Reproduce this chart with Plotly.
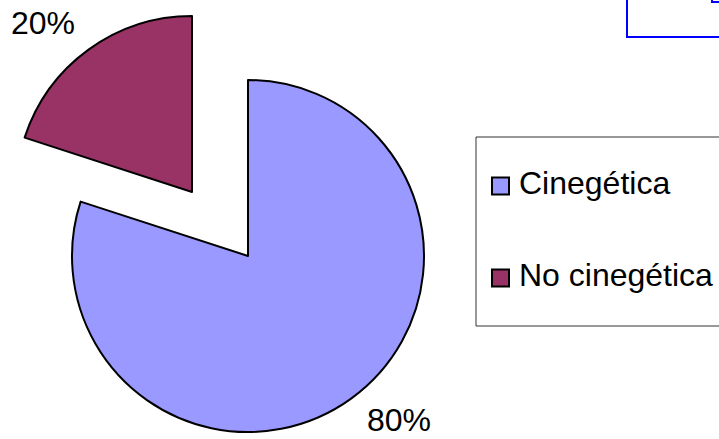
import plotly.graph_objects as go

# ---- data ----
labels = ["Cinegética", "No cinegética"]
values = [80, 20]
colors = ["#9999FF", "#993366"]

W, H = 719, 439
FONT = "Liberation Sans, Arial, Helvetica, sans-serif"

def domain(cx, cy, r):
    return dict(x=[(cx - r) / W, (cx + r) / W],
                y=[1 - (cy + r) / H, 1 - (cy - r) / H])

R = 176
fig = go.Figure()

# main pie (first slice shown, exploded slice left empty)
fig.add_trace(go.Pie(
    labels=labels, values=values, sort=False, direction="clockwise", rotation=0,
    marker=dict(colors=[colors[0], "rgba(0,0,0,0)"],
                line=dict(color="black", width=[2, 0])),
    textinfo="none", hoverinfo="skip", showlegend=False,
    domain=domain(248, 256, R),
))
# exploded slice
fig.add_trace(go.Pie(
    labels=labels, values=values, sort=False, direction="clockwise", rotation=0,
    marker=dict(colors=["rgba(0,0,0,0)", colors[1]],
                line=dict(color="black", width=[0, 2])),
    textinfo="none", hoverinfo="skip", showlegend=False,
    domain=domain(192, 192, R),
))

total = sum(values)
pct_pos = [(399, 420), (43, 23)]
annotations = []
shapes = []
for v, (x, y) in zip(values, pct_pos):
    annotations.append(dict(x=x / W, y=1 - y / H, xref="paper", yref="paper",
                            text=f"{round(100 * v / total)}%", showarrow=False,
                            xanchor="center", yanchor="middle",
                            font=dict(family=FONT, size=32, color="black")))

# legend box
shapes.append(dict(type="rect", xref="paper", yref="paper",
                   x0=476 / W, x1=760 / W, y0=1 - 326 / H, y1=1 - 137 / H,
                   line=dict(color="#333333", width=1), fillcolor="rgba(0,0,0,0)"))
leg_y = [186, 278]
for lab, col, yy in zip(labels, colors, leg_y):
    shapes.append(dict(type="rect", xref="paper", yref="paper",
                       x0=492 / W, x1=509 / W, y0=1 - (yy + 8.5) / H, y1=1 - (yy - 8.5) / H,
                       line=dict(color="black", width=2), fillcolor=col))
    annotations.append(dict(x=517 / W, y=1 - (yy - 3) / H, xref="paper", yref="paper",
                            text=lab, showarrow=False, xanchor="left", yanchor="middle",
                            font=dict(family=FONT, size=32, color="black")))

# partial boxes at top right
shapes.append(dict(type="rect", xref="paper", yref="paper",
                   x0=627 / W, x1=760 / W, y0=1 - 37 / H, y1=1 + 20 / H,
                   line=dict(color="#0000FF", width=2), fillcolor="rgba(0,0,0,0)"))
shapes.append(dict(type="rect", xref="paper", yref="paper",
                   x0=712 / W, x1=760 / W, y0=1 - 2 / H, y1=1 + 20 / H,
                   line=dict(color="#0000FF", width=2), fillcolor="rgba(0,0,0,0)"))

fig.update_layout(
    width=W, height=H, autosize=False,
    margin=dict(l=0, r=0, t=0, b=0),
    paper_bgcolor="white", plot_bgcolor="white",
    annotations=annotations, shapes=shapes,
    showlegend=False,
)
fig.write_html("out.html", config={"displayModeBar": False},
               post_script="document.body.style.margin='0';document.body.style.overflow='hidden';")
